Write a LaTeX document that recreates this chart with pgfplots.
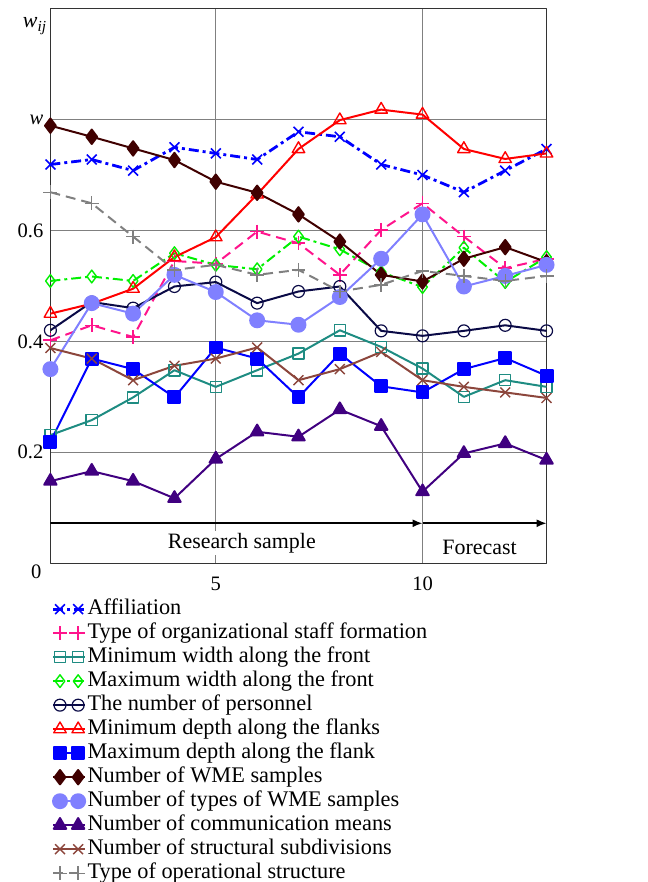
\documentclass[border=0pt]{standalone}
\usepackage{fontspec}
\setmainfont{Liberation Serif}
\usepackage{pgfplots}
\usepackage{pgfplotstable}
\pgfplotsset{compat=1.18}
\usetikzlibrary{arrows.meta}

\definecolor{cAff}{RGB}{0,0,255}
\definecolor{cOrg}{RGB}{255,20,140}
\definecolor{cMinW}{RGB}{30,140,130}
\definecolor{cMaxW}{RGB}{0,240,0}
\definecolor{cPers}{RGB}{10,10,70}
\definecolor{cMinD}{RGB}{255,0,0}
\definecolor{cMaxD}{RGB}{0,0,255}
\definecolor{cWME}{RGB}{64,0,0}
\definecolor{cTypes}{RGB}{128,128,255}
\definecolor{cComm}{RGB}{64,0,128}
\definecolor{cStruct}{RGB}{140,70,60}
\definecolor{cOper}{RGB}{128,128,128}

% day, then one column per indicator
\pgfplotstableread{
x  aff   org   minw  maxw  pers  mind  maxd  wme   types comm  struct oper
1  0.719 0.402 0.231 0.509 0.420 0.450 0.219 0.789 0.350 0.148 0.388 0.669
2  0.728 0.429 0.258 0.517 0.471 0.468 0.369 0.769 0.469 0.166 0.369 0.649
3  0.708 0.408 0.299 0.509 0.460 0.495 0.350 0.748 0.450 0.148 0.330 0.589
4  0.750 0.545 0.348 0.559 0.499 0.552 0.299 0.727 0.520 0.117 0.356 0.529
5  0.739 0.540 0.318 0.538 0.507 0.588 0.389 0.688 0.489 0.188 0.369 0.538
6  0.728 0.598 0.348 0.530 0.469 0.665 0.369 0.668 0.438 0.237 0.389 0.520
7  0.778 0.577 0.378 0.589 0.490 0.747 0.299 0.629 0.430 0.228 0.330 0.529
8  0.769 0.520 0.420 0.566 0.499 0.799 0.378 0.580 0.480 0.277 0.350 0.490
9  0.719 0.601 0.390 0.525 0.419 0.818 0.319 0.520 0.549 0.247 0.381 0.502
10 0.700 0.649 0.351 0.498 0.410 0.809 0.308 0.508 0.629 0.129 0.330 0.527
11 0.669 0.589 0.300 0.569 0.419 0.747 0.350 0.549 0.499 0.198 0.318 0.518
12 0.708 0.532 0.330 0.507 0.429 0.729 0.370 0.570 0.518 0.216 0.308 0.509
13 0.747 0.549 0.318 0.552 0.419 0.739 0.338 0.543 0.538 0.186 0.298 0.518
}\data

\begin{document}
\begin{tikzpicture}
\useasboundingbox (-25.3pt,-160pt) rectangle (299.7pt,282.65pt);
\begin{axis}[
  at={(0,0)}, anchor=south west,
  scale only axis,
  width=249pt, height=278.3pt,
  xmin=1, xmax=13, ymin=0, ymax=1,
  xtick={5,10}, ytick={0.2,0.4,0.6,0.8},
  yticklabels={0.2,0.4,0.6,\textit{w}\hspace{2pt}},
  major tick length=0pt,
  xmajorgrids, ymajorgrids,
  grid style={gray, line width=0.5pt},
  axis line style={black!80, line width=0.7pt},
  tick label style={font=\fontsize{10.3}{12}\selectfont},
  xticklabel style={yshift=-3.5pt},
  /pgf/number format/assume math mode=true,
  line join=round,
  legend style={at={(0,0)}, anchor=north west, yshift=-17.3pt, xshift=0.5pt,
    draw=none, fill=none, inner sep=0pt, row sep=0.95pt,
    nodes={inner sep=0.6pt, text height=7.5pt, text depth=2.4pt},
    font=\fontsize{11.2}{13}\selectfont},
  legend cell align=left,
  legend image code/.code={\draw[mark indices={2,3}] plot coordinates {(0cm,0cm) (0.12cm,0cm) (0.44cm,0cm) (0.56cm,0cm)};},
]
\addplot[cAff, line width=1.4pt, dash pattern=on 5pt off 2pt on 1.5pt off 2pt, mark=x, mark size=3.5pt, mark options={solid, line width=0.8pt}] table[x=x, y=aff]{\data};
\addplot[cOrg, line width=1pt, dash pattern=on 5pt off 3pt, mark=+, mark size=3.5pt, mark options={solid, line width=0.8pt}] table[x=x, y=org]{\data};
\addplot[cMinW, line width=1pt, mark=square, mark size=2.8pt, mark options={solid, fill=white, line width=0.7pt}] table[x=x, y=minw]{\data};
\addplot[cMaxW, line width=1pt, dash pattern=on 5pt off 2pt on 1.5pt off 2pt, mark=diamond, mark size=3.2pt, mark options={solid, fill=white, line width=0.7pt}] table[x=x, y=maxw]{\data};
\addplot[cPers, line width=1pt, mark=o, mark size=3pt, mark options={solid, line width=0.6pt}] table[x=x, y=pers]{\data};
\addplot[cMinD, line width=1pt, mark=triangle, mark size=3.6pt, mark options={solid, fill=white, line width=0.7pt}] table[x=x, y=mind]{\data};
\addplot[cMaxD, line width=1pt, mark=square*, mark size=3pt] table[x=x, y=maxd]{\data};
\addplot[cWME, line width=1pt, mark=diamond*, mark size=3.6pt] table[x=x, y=wme]{\data};
\addplot[cTypes, line width=1pt, mark=*, mark size=3.5pt] table[x=x, y=types]{\data};
\addplot[cComm, line width=1pt, mark=triangle*, mark size=3.6pt] table[x=x, y=comm]{\data};
\addplot[cStruct, line width=1pt, mark=x, mark size=3.5pt, mark options={line width=0.7pt}] table[x=x, y=struct]{\data};
\addplot[cOper, line width=1pt, dash pattern=on 5pt off 3pt, mark=+, mark size=3.5pt, mark options={solid, line width=0.7pt}] table[x=x, y=oper]{\data};
\legend{Affiliation, Type of organizational staff formation, Minimum width along the front, Maximum width along the front, The number of personnel, Minimum depth along the flanks, Maximum depth along the flank, Number of WME samples, Number of types of WME samples, Number of communication means, Number of structural subdivisions, Type of operational structure}

\draw[line width=0.8pt, -{Latex[length=5pt, width=4pt]}] (axis cs:1,0.072) -- (axis cs:10,0.072);
\draw[line width=0.8pt, -{Latex[length=5pt, width=4pt]}] (axis cs:10,0.072) -- (axis cs:13,0.072);
\node[font=\fontsize{11}{13}\selectfont, fill=white, inner sep=1pt] at (axis cs:5.63,0.036) {Research sample};
\node[font=\fontsize{11}{13}\selectfont] at (axis cs:11.38,0.029) {Forecast};
\node[font=\fontsize{10.3}{12}\selectfont, anchor=north west, yshift=-3.5pt] at (axis cs:10.6,0) {Operation time, days};
\end{axis}
\node[font=\fontsize{10.3}{12}\selectfont, anchor=north east, inner sep=0pt] at (-4.3pt,-0.5pt) {0};
\node[font=\fontsize{11}{13}\selectfont, anchor=base east, inner sep=0.5pt] at (-1pt,268.6pt) {\textit{w}\textsubscript{\textit{ij}}};
\end{tikzpicture}
\end{document}
